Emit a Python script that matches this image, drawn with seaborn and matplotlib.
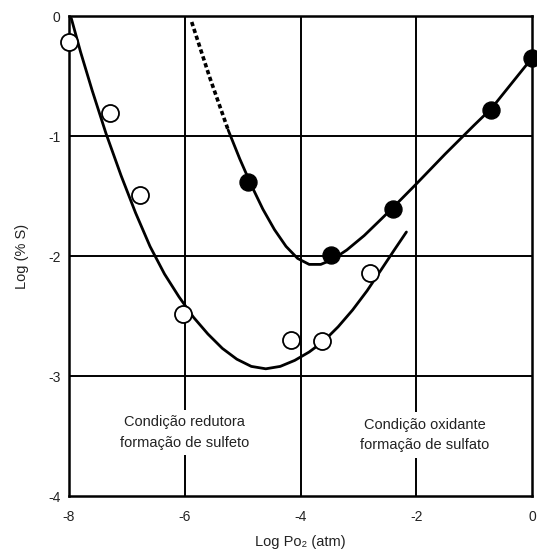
import matplotlib
matplotlib.use("Agg")
import matplotlib.pyplot as plt
import seaborn as sns
import pandas as pd

# Open circles (reducing condition series)
open_x = [-8.00, -7.29, -6.77, -6.03, -4.17, -3.63, -2.80]
open_y = [-0.22, -0.81, -1.49, -2.48, -2.70, -2.71, -2.14]

# Filled circles (oxidising condition series)
fill_x = [-4.90, -3.48, -2.41, -0.70, 0.00]
fill_y = [-1.38, -1.99, -1.61, -0.78, -0.35]

# Trend curve through open circles
curve_open_x = [-7.96, -7.80, -7.60, -7.36, -7.10, -6.85, -6.60, -6.35, -6.10, -5.85,
                -5.60, -5.35, -5.10, -4.85, -4.60, -4.35, -4.10, -3.85, -3.60, -3.35,
                -3.10, -2.85, -2.60, -2.38, -2.17]
curve_open_y = [-0.02, -0.30, -0.62, -0.98, -1.33, -1.64, -1.92, -2.15, -2.34, -2.51,
                -2.65, -2.77, -2.86, -2.92, -2.94, -2.92, -2.87, -2.80, -2.71, -2.59,
                -2.45, -2.29, -2.11, -1.95, -1.80]

# Trend curve through filled circles (solid part)
curve_fill_x = [-5.25, -5.05, -4.85, -4.65, -4.45, -4.25, -4.05, -3.85, -3.65, -3.45,
                -3.20, -2.90, -2.60, -2.41, -2.00, -1.50, -1.00, -0.70, -0.35, 0.00]
curve_fill_y = [-0.95, -1.19, -1.41, -1.61, -1.78, -1.92, -2.02, -2.07, -2.07, -2.03,
                -1.95, -1.83, -1.69, -1.60, -1.40, -1.15, -0.91, -0.77, -0.56, -0.35]

# Dashed extrapolation
dash_x = [-5.88, -5.57, -5.25]
dash_y = [-0.05, -0.51, -0.95]

x_ticks = [-8, -6, -4, -2, 0]
y_ticks = [0, -1, -2, -3, -4]

sns.set_style("white")
plt.rcParams['font.family'] = ['Liberation Sans', 'DejaVu Sans']

fig = plt.figure(figsize=(5.37, 5.54), dpi=100)
ax = fig.add_axes([69/537, 1-496/554, (532-69)/537, (496-16)/554])

# grid lines
for gx in [-6, -4, -2]:
    ax.axvline(gx, color='black', lw=1.4, zorder=1)
for gy in [-1, -2, -3]:
    ax.axhline(gy, color='black', lw=1.4, zorder=1)

df_o = pd.DataFrame({'x': curve_open_x, 'y': curve_open_y})
df_f = pd.DataFrame({'x': curve_fill_x, 'y': curve_fill_y})
df_d = pd.DataFrame({'x': dash_x, 'y': dash_y})
sns.lineplot(data=df_o, x='x', y='y', sort=False, color='black', lw=2, ax=ax, zorder=3)
sns.lineplot(data=df_f, x='x', y='y', sort=False, color='black', lw=2, ax=ax, zorder=3)
sns.lineplot(data=df_d, x='x', y='y', sort=False, color='black', lw=2.6, ax=ax, zorder=3,
             linestyle=(0, (1.2, 0.8)))

pts_o = pd.DataFrame({'x': open_x, 'y': open_y})
pts_f = pd.DataFrame({'x': fill_x, 'y': fill_y})
sns.scatterplot(data=pts_o, x='x', y='y', s=150, facecolor='white', edgecolor='black',
                linewidth=1.3, ax=ax, zorder=5, clip_on=False)
sns.scatterplot(data=pts_f, x='x', y='y', s=150, color='black', edgecolor='black',
                ax=ax, zorder=5, clip_on=False)

ax.text(-6.0, -3.47, "Condição redutora\nformação de sulfeto", ha='center', va='center',
        fontsize=10.5, linespacing=1.6, color='#222222', zorder=4,
        bbox=dict(facecolor='white', edgecolor='none', pad=4))
ax.text(-1.85, -3.49, "Condição oxidante\nformação de sulfato", ha='center', va='center',
        fontsize=10.5, linespacing=1.6, color='#222222', zorder=4,
        bbox=dict(facecolor='white', edgecolor='none', pad=4))

ax.set_xlim(-8, 0)
ax.set_ylim(-4, 0)
ax.set_xticks(x_ticks)
ax.set_yticks(y_ticks)
ax.set_xticklabels([str(v) for v in x_ticks])
ax.set_yticklabels([str(v) for v in y_ticks])
ax.tick_params(axis='both', length=0, labelsize=10, colors='#222222')
ax.tick_params(axis='x', pad=10)
ax.tick_params(axis='y', pad=6)
for sp in ax.spines.values():
    sp.set_visible(True)
    sp.set_color('black')
    sp.set_linewidth(1.8)

ax.set_xlabel("Log Po₂ (atm)", fontsize=10.5, labelpad=8, color='#222222')
ax.set_ylabel("Log (% S)", fontsize=10.5, labelpad=14, color='#222222')

fig.savefig("out.png", dpi=100)
